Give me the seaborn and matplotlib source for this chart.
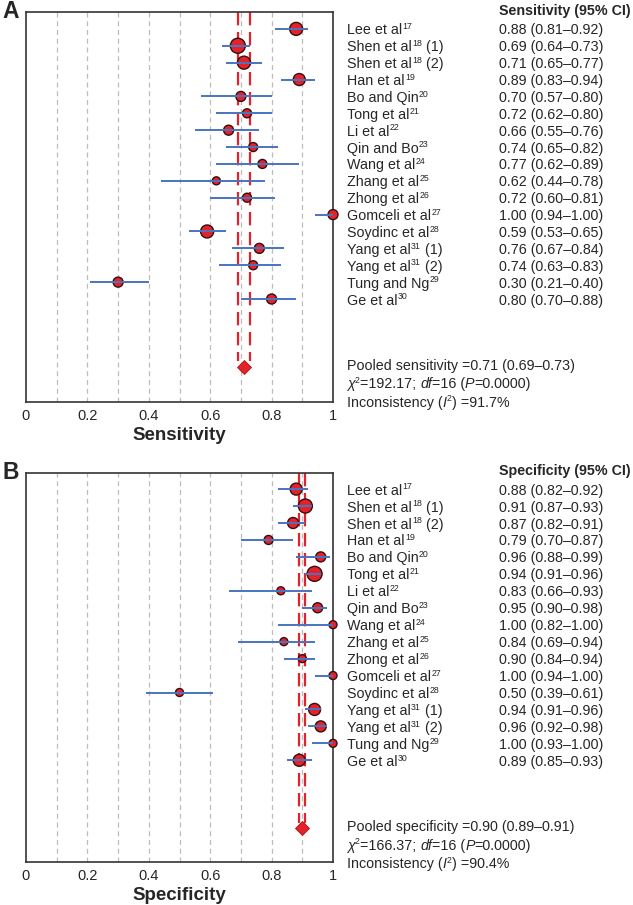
import matplotlib
matplotlib.use("Agg")
import matplotlib.pyplot as plt
import matplotlib.transforms as mtransforms
import numpy as np
import pandas as pd
import seaborn as sns

# ---- data ----
study_names = ["Lee et al", "Shen et al", "Shen et al", "Han et al", "Bo and Qin",
               "Tong et al", "Li et al", "Qin and Bo", "Wang et al", "Zhang et al",
               "Zhong et al", "Gomceli et al", "Soydinc et al", "Yang et al",
               "Yang et al", "Tung and Ng", "Ge et al"]
study_refs = ["17", "18", "18", "19", "20", "21", "22", "23", "24", "25",
              "26", "27", "28", "31", "31", "29", "30"]
study_suffix = ["", " (1)", " (2)", "", "", "", "", "", "", "", "", "", "",
                " (1)", " (2)", "", ""]

sens_est = [0.88, 0.69, 0.71, 0.89, 0.70, 0.72, 0.66, 0.74, 0.77, 0.62, 0.72, 1.00, 0.59, 0.76, 0.74, 0.30, 0.80]
sens_lo = [0.81, 0.64, 0.65, 0.83, 0.57, 0.62, 0.55, 0.65, 0.62, 0.44, 0.60, 0.94, 0.53, 0.67, 0.63, 0.21, 0.70]
sens_hi = [0.92, 0.73, 0.77, 0.94, 0.80, 0.80, 0.76, 0.82, 0.89, 0.78, 0.81, 1.00, 0.65, 0.84, 0.83, 0.40, 0.88]
# study weights, shown as marker diameter (px)
sens_w = [13, 15, 13, 12, 10, 9, 10, 9, 9, 8, 9, 10, 13, 10, 9, 10, 10]
sens_pooled = (0.71, 0.69, 0.73)
sens_chi2 = "192.17"
sens_i2 = "91.7%"

spec_est = [0.88, 0.91, 0.87, 0.79, 0.96, 0.94, 0.83, 0.95, 1.00, 0.84, 0.90, 1.00, 0.50, 0.94, 0.96, 1.00, 0.89]
spec_lo = [0.82, 0.87, 0.82, 0.70, 0.88, 0.91, 0.66, 0.90, 0.82, 0.69, 0.84, 0.94, 0.39, 0.91, 0.92, 0.93, 0.85]
spec_hi = [0.92, 0.93, 0.91, 0.87, 0.99, 0.96, 0.93, 0.98, 1.00, 0.94, 0.94, 1.00, 0.61, 0.96, 0.98, 1.00, 0.93]
spec_w = [12, 14, 11, 9, 10, 15, 8, 10, 8, 8, 8, 8, 8, 12, 11, 8, 12]
spec_pooled = (0.90, 0.89, 0.91)
spec_chi2 = "166.37"
spec_i2 = "90.4%"

xticks = [0, 0.2, 0.4, 0.6, 0.8, 1.0]
xtick_labels = ["0", "0.2", "0.4", "0.6", "0.8", "1"]

sns.set_style("white")
plt.rcParams["font.family"] = ["Liberation Sans", "DejaVu Sans"]

RED = "#e5222a"
BLUE = "#4a74c0"
FS = 10.3
SUP = 6.3


def rich_line(ax, x, y, trans, pieces):
    """Chain text pieces on one baseline. kind: 'n' normal, 'i' italic, 's' superscript."""
    base = None
    prev = None
    for txt, kind in pieces:
        if base is None:
            base = ax.text(x, y, txt, transform=trans, fontsize=FS, va="center_baseline",
                           ha="left", style="italic" if kind == "i" else "normal")
            prev = base
            continue
        if kind == "s":
            prev = ax.annotate(txt, xy=(1, 1), xycoords=(prev, base), xytext=(0.3, 0.9),
                               textcoords="offset points", fontsize=SUP, va="top", ha="left")
        else:
            prev = ax.annotate(txt, xy=(1, 0), xycoords=(prev, base), fontsize=FS,
                               va="bottom", ha="left",
                               style="italic" if kind == "i" else "normal")
    return base


def forest_panel(fig, rect, est, lo, hi, w, pooled, chi2, i2, measure, letter, ylim):
    ax = fig.add_axes(rect)
    n = len(est)
    df = pd.DataFrame({"est": est, "lo": lo, "hi": hi, "row": np.arange(n),
                       "s": (np.array(w) * 0.72) ** 2})

    # reference grid
    for gx in np.arange(0.1, 0.95, 0.1):
        ax.axvline(gx, color="#bdbdbd", lw=0.9, dashes=(4, 3), zorder=0)

    # pooled CI lines
    est_p, lo_p, hi_p = pooled
    diamond_row = 20
    for xv in (lo_p, hi_p):
        ax.plot([xv, xv], [ylim[1], diamond_row - 0.3], color=RED, lw=1.6,
                dashes=(6, 3), zorder=1)

    sns.scatterplot(data=df, x="est", y="row", s=df["s"], color=RED,
                    edgecolor="#331010", linewidth=1.0, ax=ax, zorder=3,
                    clip_on=False, legend=False)
    ax.hlines(df["row"], df["lo"], df["hi"], color=BLUE, lw=1.4, zorder=4)

    # pooled diamond
    ax.plot([est_p], [diamond_row], marker="D", markersize=7.5, color=RED,
            markeredgecolor="#b01010", markeredgewidth=0.6, zorder=5)

    ax.set_xlim(0, 1)
    ax.set_ylim(*ylim)
    ax.set_xticks(xticks)
    ax.set_xticklabels(xtick_labels, fontsize=10.5)
    ax.tick_params(axis="x", length=0, pad=5)
    ax.set_yticks([])
    ax.set_ylabel("")
    ax.set_xlabel(measure, fontsize=13.5, fontweight="bold", labelpad=3)
    for sp in ax.spines.values():
        sp.set_color("#333333")
        sp.set_linewidth(1.2)

    trans = mtransforms.blended_transform_factory(fig.transFigure, ax.transData)
    ax.text(0.789, -1.15, f"{measure} (95% CI)", transform=trans, fontsize=FS,
            fontweight="bold", va="center_baseline", ha="left", clip_on=False)
    for i in range(n):
        pieces = [(study_names[i], "n"), (study_refs[i], "s")]
        if study_suffix[i]:
            pieces.append((study_suffix[i], "n"))
        rich_line(ax, 0.548, i, trans, pieces)
        ax.text(0.788, i, f"{est[i]:.2f} ({lo[i]:.2f}\u2013{hi[i]:.2f})", transform=trans,
                fontsize=FS, va="center_baseline", ha="left")

    stats = [
        [(f"Pooled {measure.lower()} ={est_p:.2f} ({lo_p:.2f}\u2013{hi_p:.2f})", "n")],
        [("\u03c7", "i"), ("2", "s"), (f"={chi2}; ", "n"), ("df", "i"), ("=16 (", "n"),
         ("P", "i"), ("=0.0000)", "n")],
        [("Inconsistency (", "n"), ("I", "i"), ("2", "s"), (f") ={i2}", "n")],
    ]
    for j, pieces in enumerate(stats):
        rich_line(ax, 0.548, 19.85 + 1.1 * j, trans, pieces)

    ax_top = rect[1] + rect[3]
    fig.text(0.004, ax_top + 0.001, letter, fontsize=16.5, fontweight="bold",
             va="center", ha="left")
    return ax


fig = plt.figure(figsize=(6.33, 9.05), dpi=100)
forest_panel(fig, [26 / 633, 1 - 402 / 905, 307 / 633, 390 / 905],
             sens_est, sens_lo, sens_hi, sens_w, sens_pooled, sens_chi2, sens_i2,
             "Sensitivity", "A", (22.1, -1.0))
forest_panel(fig, [26 / 633, 1 - 862 / 905, 307 / 633, 389 / 905],
             spec_est, spec_lo, spec_hi, spec_w, spec_pooled, spec_chi2, spec_i2,
             "Specificity", "B", (22.0, -0.95))

fig.savefig("out.png", dpi=100)
